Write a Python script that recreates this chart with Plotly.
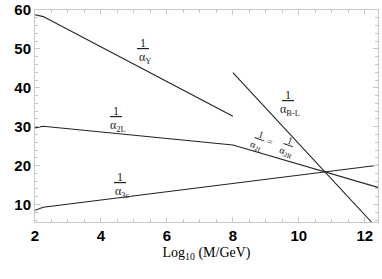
import math
import plotly.graph_objects as go

# data
x_Y = [2, 2.25, 8]
y_Y = [58.8, 58.3, 32.7]
x_2L = [2, 2.25, 8, 12.4]
y_2L = [29.7, 30.1, 25.3, 14.4]
x_3c = [2, 2.25, 12.4]
y_3c = [8.5, 9.3, 20.1]
x_BL = [8, 12.2]
y_BL = [43.9, 5.5]

x_ticks = [2, 4, 6, 8, 10, 12]
y_ticks = [10, 20, 30, 40, 50, 60]

line = dict(color="#222222", width=1.1)
fig = go.Figure()
for xs, ys, name in [(x_Y, y_Y, "Y"), (x_2L, y_2L, "2L"), (x_3c, y_3c, "3c"), (x_BL, y_BL, "B-L")]:
    fig.add_trace(go.Scatter(x=xs, y=ys, mode="lines", line=line, name=name, showlegend=False))

serif = "Liberation Serif"

def add_frac(x, y, sub, size, angle, d):
    t = math.radians(angle)
    sx, sy = d * math.sin(t), d * math.cos(t)
    f = dict(family=serif, size=size, color="#222222")
    fig.add_annotation(x=x, y=y, text="<u>&nbsp;1&nbsp;</u>", showarrow=False, textangle=angle,
                       xshift=sx, yshift=sy, font=f)
    fig.add_annotation(x=x, y=y, text="α<sub>%s</sub>" % sub, showarrow=False, textangle=angle,
                       xshift=-sx + (2 if angle == 0 else 0), yshift=-sy - 1, font=f)

add_frac(5.27, 49.7, "Y", 12, 0, 7)
add_frac(4.45, 32.2, "2L", 12, 0, 7)
add_frac(4.58, 15.3, "3c", 12, 0, 7)
add_frac(9.67, 36.3, "B-L", 12, 0, 7)
add_frac(8.79, 26.6, "2L", 10, 20, 6)
fig.add_annotation(x=9.12, y=26.1, text="=", showarrow=False, textangle=20,
                   font=dict(family=serif, size=10, color="#222222"))
add_frac(9.67, 25.0, "2R", 10, 20, 6)

axis_common = dict(showgrid=False, zeroline=False, showline=True, linecolor="#c8c8c8",
                   linewidth=1, mirror="allticks", ticks="inside", ticklen=5, tickcolor="#c8c8c8",
                   automargin=False,
                   tickfont=dict(family="Liberation Sans", size=15, color="black", weight="bold"))
fig.update_xaxes(range=[2, 12.4], tickvals=x_ticks, ticktext=[str(v) for v in x_ticks],
                 minor=dict(dtick=0.5, ticks="inside", ticklen=3, tickcolor="#c8c8c8"),
                 title=dict(text="Log<sub>10</sub> (M/GeV)", font=dict(family=serif, size=14, color="black"), standoff=4),
                 **axis_common)
fig.update_yaxes(range=[5.5, 60], tickvals=y_ticks, ticktext=[str(v) for v in y_ticks],
                 minor=dict(dtick=2, ticks="inside", ticklen=3, tickcolor="#c8c8c8"),
                 **axis_common)
fig.update_layout(width=382, height=279, margin=dict(l=35, r=4, t=10, b=57),
                  plot_bgcolor="white", paper_bgcolor="white")
fig.write_html("out.html", config={"displayModeBar": False},
               post_script="document.body.style.margin='0';")
